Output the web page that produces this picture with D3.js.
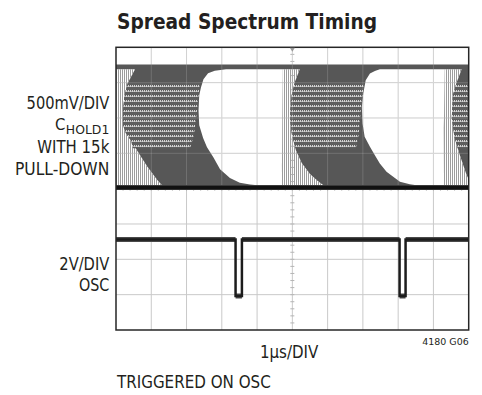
<!DOCTYPE html>
<html>
<head>
<meta charset="utf-8">
<script src="https://cdn.jsdelivr.net/npm/d3@7"></script>
<style>
  body { margin: 0; background: #fff; }
  text { font-family: "Liberation Sans Narrow", "DejaVu Sans Condensed", "Liberation Sans", sans-serif; fill: #231f20; }
</style>
</head>
<body>
<svg id="chart" width="482" height="395"></svg>
<script>
// scope settings: 1us/div over 10 div, trigger at centre
const timeDomain = [-5, 5];
const ch1VoltsPerDiv = 0.5, ch1OffsetDiv = 4.03; // CHOLD1
const ch2VoltsPerDiv = 2, ch2OffsetDiv = 0.96;    // OSC
const ch1TopLevel = 1.74;                          // top of the CHOLD1 envelope (V)

// OSC trace [t (us), V]
const oscTrace = [
  [-5, 3.2], [-1.61, 3.2], [-1.61, 0], [-1.43, 0], [-1.43, 3.2],
  [3.04, 3.2], [3.04, 0], [3.21, 0], [3.21, 3.2], [5, 3.2]
];

// CHOLD1 persistence display, read off the picture as outlines [t (us), V]
// white "eyes" where no trace passes
const eye1 = [
  [-1.88, 1.675], [-2.20, 1.654], [-2.39, 1.618], [-2.52, 1.534], [-2.59, 1.420], [-2.64, 1.307],
  [-2.66, 1.095], [-2.64, 0.883], [-2.53, 0.700], [-2.42, 0.572], [-2.24, 0.431], [-2.05, 0.261],
  [-1.77, 0.134], [-1.49, 0.068], [-1.20, 0.045], [-0.92, 0.028], [-0.30, 0.028], [-0.28, 0.855],
  [-0.27, 1.675]
];
const eye2 = [
  [2.48, 1.675], [2.34, 1.651], [2.20, 1.614], [2.08, 1.519], [2.01, 1.331], [1.97, 1.142],
  [1.99, 0.907], [2.05, 0.718], [2.20, 0.577], [2.34, 0.459], [2.48, 0.342], [2.67, 0.223],
  [2.86, 0.153], [3.05, 0.082], [3.33, 0.049], [3.61, 0.025], [4.27, 0.025], [4.30, 0.850],
  [4.32, 1.675]
];
// fans of rising edges (thin separate lines)
const fan0 = [
  [-5.05, 1.675], [-5.05, 0.028], [-3.69, 0.028], [-3.83, 0.106], [-4.11, 0.294], [-4.35, 0.483],
  [-4.58, 0.671], [-4.72, 0.770], [-4.80, 0.883], [-4.80, 1.095], [-4.76, 1.307], [-4.67, 1.477],
  [-4.55, 1.590], [-4.46, 1.675]
];
const fan1 = [
  [-0.27, 1.675], [-0.30, 0.028], [0.89, 0.028], [0.72, 0.092], [0.50, 0.191], [0.27, 0.346],
  [0.10, 0.530], [-0.01, 0.742], [-0.06, 0.930], [-0.06, 1.095], [-0.02, 1.307], [0.07, 1.495],
  [0.21, 1.675]
];
const fan2 = [
  [4.32, 1.675], [4.27, 0.025], [5.10, 0.025], [4.94, 0.177], [4.75, 0.459], [4.60, 0.700],
  [4.52, 0.982], [4.55, 1.307], [4.66, 1.491], [4.80, 1.675]
];
// dotted bands of decaying traces
const band0 = [
  [-4.67, 1.477], [-2.62, 1.477], [-2.70, 1.095], [-2.79, 0.742], [-2.90, 0.558], [-4.52, 0.558],
  [-4.58, 0.671], [-4.72, 0.770], [-4.80, 0.883], [-4.80, 1.095], [-4.76, 1.307]
];
const band1 = [
  [0.06, 1.477], [2.03, 1.477], [1.94, 1.095], [1.88, 0.742], [1.80, 0.558], [0.09, 0.558],
  [-0.01, 0.742], [-0.06, 0.930], [-0.06, 1.095], [-0.02, 1.307]
];
const band2 = [
  [4.65, 1.477], [5.10, 1.477], [5.10, 0.558], [4.69, 0.558], [4.60, 0.700], [4.52, 0.982], [4.55, 1.307]
];

const eyes = [eye1, eye2];
const fans = [fan0, fan1, fan2];
const bands = [band0, band1, band2];

const leftLabels = [
  { text: "500mV/DIV", y: 109.3, len: 82.7 },
  { text: "WITH 15k", y: 152.7, len: 72 },
  { text: "PULL-DOWN", y: 175, len: 94.3 },
  { text: "2V/DIV", y: 270, len: 50 },
  { text: "OSC", y: 290.7, len: 30.3 }
];

const svg = d3.select("#chart");
const pLeft = 116, pRight = 468.7, pTop = 47.3, pBottom = 330;

const x = d3.scaleLinear().domain(timeDomain).range([pLeft, pRight]);
const yDiv = d3.scaleLinear().domain([0, 8]).range([pBottom, pTop]);
const y1 = d3.scaleLinear()
  .domain([-ch1OffsetDiv * ch1VoltsPerDiv, (8 - ch1OffsetDiv) * ch1VoltsPerDiv])
  .range([pBottom, pTop]);
const y2 = d3.scaleLinear()
  .domain([-ch2OffsetDiv * ch2VoltsPerDiv, (8 - ch2OffsetDiv) * ch2VoltsPerDiv])
  .range([pBottom, pTop]);

const defs = svg.append("defs");
defs.append("clipPath").attr("id", "plot")
  .append("rect").attr("x", pLeft).attr("y", pTop).attr("width", pRight - pLeft).attr("height", pBottom - pTop);

const hatch = defs.append("pattern").attr("id", "hatch")
  .attr("patternUnits", "userSpaceOnUse").attr("width", 2).attr("height", 4);
hatch.append("rect").attr("x", 0).attr("y", 0).attr("width", 1).attr("height", 4).attr("fill", "#9c9c9c");

const dots = defs.append("pattern").attr("id", "dots")
  .attr("patternUnits", "userSpaceOnUse").attr("width", 2).attr("height", 5);
dots.append("rect").attr("width", 2).attr("height", 5).attr("fill", "#5e5e5e");
dots.append("rect").attr("x", 0).attr("y", 0).attr("width", 1).attr("height", 2).attr("fill", "#d4d4d4");
dots.append("rect").attr("x", 1).attr("y", 1).attr("width", 1).attr("height", 1).attr("fill", "#a8a8a8");

const line1 = d3.line().x(d => x(d[0])).y(d => y1(d[1]));
const poly1 = d3.line().x(d => x(d[0])).y(d => y1(d[1])).curve(d3.curveLinearClosed);

// grid
const grid = svg.append("g").attr("stroke", "#c9c9c9").attr("stroke-width", 1);
grid.selectAll(".v").data(x.ticks(10).slice(1, -1)).join("line")
  .attr("x1", d => x(d)).attr("x2", d => x(d)).attr("y1", pTop).attr("y2", pBottom);
grid.selectAll(".h").data(d3.range(1, 8)).join("line")
  .attr("y1", d => yDiv(d)).attr("y2", d => yDiv(d)).attr("x1", pLeft).attr("x2", pRight);

// minor ticks on the centre lines
const ticks = svg.append("g").attr("stroke", "#b5b5b5").attr("stroke-width", 1);
ticks.selectAll(".tv").data(d3.range(0.2, 8, 0.2)).join("line")
  .attr("x1", x(0) - 2).attr("x2", x(0) + 2).attr("y1", d => yDiv(d)).attr("y2", d => yDiv(d));
ticks.selectAll(".th").data(d3.range(-4.8, 5, 0.2)).join("line")
  .attr("y1", yDiv(4) - 2).attr("y2", yDiv(4) + 2).attr("x1", d => x(d)).attr("x2", d => x(d));

const plot = svg.append("g").attr("clip-path", "url(#plot)");

// CHOLD1 envelope: dark fill with the eyes and fans cut out
const envelope = `M${pLeft - 5},${y1(ch1TopLevel)}H${pRight + 5}V${y1(0)}H${pLeft - 5}Z`
  + eyes.map(e => poly1(e)).join("") + fans.map(f => poly1(f)).join("");
plot.append("path").attr("d", envelope).attr("fill", "#575757").attr("fill-rule", "evenodd");

plot.selectAll(".fan").data(fans).join("path")
  .attr("d", d => poly1(d)).attr("fill", "url(#hatch)");
plot.selectAll(".band").data(bands).join("path")
  .attr("d", d => poly1(d)).attr("fill", "url(#dots)");

// grid shows faintly through the traces
const overlay = plot.append("g").attr("stroke", "#fff").attr("stroke-opacity", 0.16).attr("stroke-width", 1);
overlay.selectAll(".v").data(x.ticks(10).slice(1, -1)).join("line")
  .attr("x1", d => x(d)).attr("x2", d => x(d)).attr("y1", pTop).attr("y2", y1(0));
overlay.selectAll(".h").data(d3.range(5, 8)).join("line")
  .attr("y1", d => yDiv(d)).attr("y2", d => yDiv(d)).attr("x1", pLeft).attr("x2", pRight);

// CHOLD1 baseline
plot.append("path").attr("d", line1([[timeDomain[0], 0], [timeDomain[1], 0]]))
  .attr("stroke", "#3a3a3a").attr("stroke-width", 5).attr("fill", "none");
plot.append("path").attr("d", line1([[timeDomain[0], 0], [timeDomain[1], 0]]))
  .attr("stroke", "#111").attr("stroke-width", 3.2).attr("fill", "none");

// OSC
const line2 = d3.line().x(d => x(d[0])).y(d => y2(d[1]));
const levels = d3.pairs(oscTrace).filter(([a, b]) => a[1] === b[1]);
plot.selectAll(".lvl").data(levels).join("path")
  .attr("d", d => line2(d)).attr("stroke", "#4a4a4a").attr("stroke-width", 5).attr("fill", "none");
plot.append("path").attr("d", line2(oscTrace))
  .attr("stroke", "#1c1c1c").attr("stroke-width", 2.5).attr("fill", "none").attr("stroke-linejoin", "miter");

// frame and trigger mark
svg.append("rect").attr("x", pLeft).attr("y", pTop).attr("width", pRight - pLeft).attr("height", pBottom - pTop)
  .attr("fill", "none").attr("stroke", "#262626").attr("stroke-width", 1.5);
svg.append("path").attr("d", `M${x(0) - 2.5},${pTop + 0.5}L${x(0) + 2.5},${pTop + 0.5}L${x(0)},${pTop + 4.5}Z`)
  .attr("fill", "#999");

// texts
svg.append("text").attr("x", 117).attr("y", 28.5).attr("font-size", 21).attr("font-weight", "bold")
  .attr("textLength", 260).attr("lengthAdjust", "spacingAndGlyphs").text("Spread Spectrum Timing");

svg.selectAll(".lbl").data(leftLabels).join("text")
  .attr("x", 109.3).attr("y", d => d.y).attr("text-anchor", "end").attr("font-size", 17)
  .attr("textLength", d => d.len).attr("lengthAdjust", "spacingAndGlyphs").text(d => d.text);
svg.append("text").attr("x", 65.4).attr("y", 130.3).attr("text-anchor", "end").attr("font-size", 16.5)
  .attr("textLength", 10.4).attr("lengthAdjust", "spacingAndGlyphs").text("C");
svg.append("text").attr("x", 109.3).attr("y", 133.6).attr("text-anchor", "end").attr("font-size", 13)
  .attr("textLength", 43.5).attr("lengthAdjust", "spacingAndGlyphs").text("HOLD1");

svg.append("text").attr("x", 260).attr("y", 358.3).attr("font-size", 17)
  .attr("textLength", 58.3).attr("lengthAdjust", "spacingAndGlyphs").text("1µs/DIV");
svg.append("text").attr("x", 468.7).attr("y", 345).attr("text-anchor", "end").attr("font-size", 9.5)
  .attr("textLength", 46.4).attr("lengthAdjust", "spacingAndGlyphs").text("4180 G06");
svg.append("text").attr("x", 117).attr("y", 388).attr("font-size", 17)
  .attr("textLength", 153.7).attr("lengthAdjust", "spacingAndGlyphs").text("TRIGGERED ON OSC");
</script>
</body>
</html>
